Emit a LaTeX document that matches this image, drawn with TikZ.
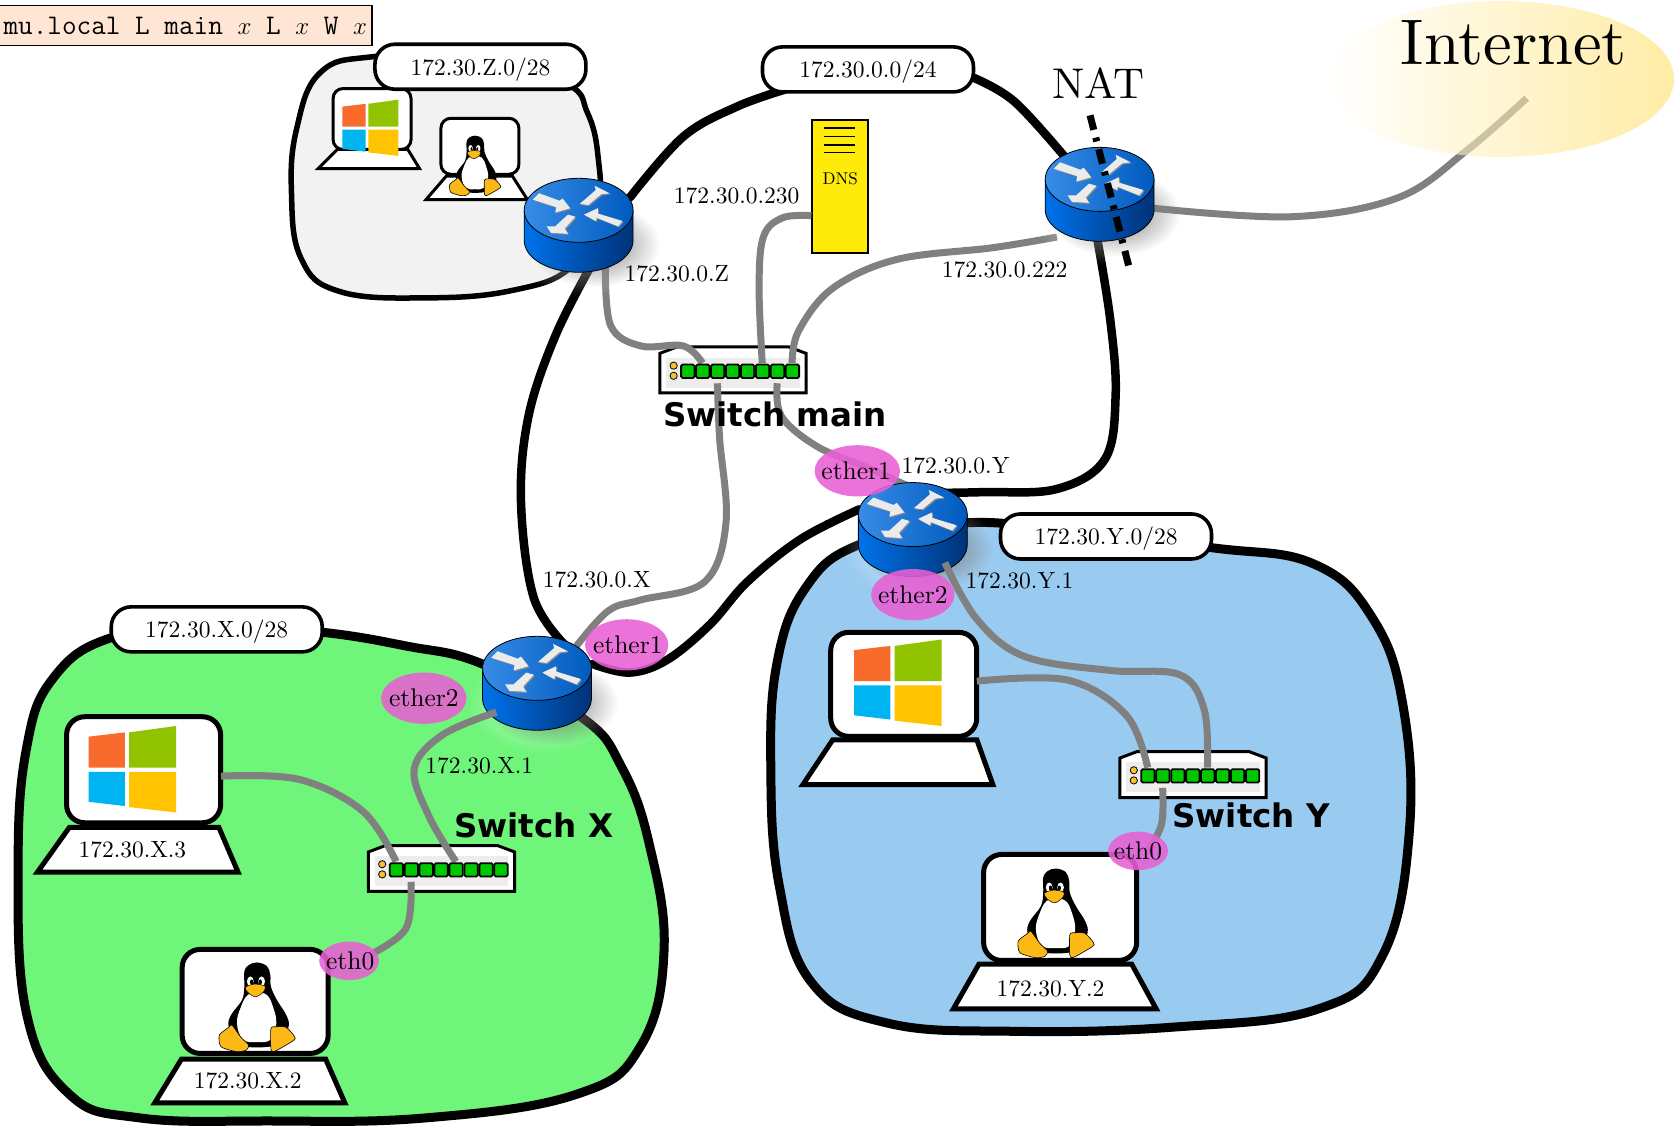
\documentclass[tikz,border=0pt]{standalone}
\usepackage{fontspec}
\setmainfont{lmroman10-regular}[Extension=.otf]
\newfontfamily\swfont{DejaVu Sans}
\usetikzlibrary{fadings,shapes.geometric}
\tikzfading[name=rglow, inner color=transparent!45, outer color=transparent!100]
\tikzfading[name=wglow, inner color=transparent!30, outer color=transparent!100]
\definecolor{rbodyL}{RGB}{0,115,235}
\definecolor{rbodyR}{RGB}{0,50,120}
\definecolor{rtopL}{RGB}{55,140,230}
\definecolor{rtopR}{RGB}{0,90,190}
\definecolor{greenblob}{RGB}{110,245,122}
\definecolor{blueblob}{RGB}{153,202,240}
\definecolor{grayblob}{RGB}{242,242,242}
\definecolor{pink}{RGB}{232,95,212}
\definecolor{dnsyellow}{RGB}{255,235,10}
\definecolor{portgreen}{RGB}{0,200,0}
\definecolor{led}{RGB}{250,190,50}
\definecolor{tuxfoot}{RGB}{252,184,20}
\definecolor{topbox}{RGB}{255,230,212}
\definecolor{inet}{RGB}{255,223,105}
\tikzset{
  x=1.0676pt, y=-1.0676pt,
  backbone/.style={draw=black, line width=8.5pt, line cap=round},
  netline/.style={draw=black!50, line width=7pt},
  blobline/.style={draw=black, line width=9pt},
  smallblob/.style={draw=black, line width=5.5pt, fill=grayblob},
  pill/.style={draw=black, line width=3.6pt, fill=white, rounded corners=20pt, minimum width=211pt, minimum height=45pt, inner sep=0pt, text depth=1pt, font=\ipfont},
  addr/.style={inner sep=0pt, font=\ipfont},
  etherdisc/.style={fill=pink, fill opacity=.88, draw=none},
  ethertext/.style={inner sep=0pt, font=\fontsize{25.5}{28}\selectfont},
  swlabel/.style={inner sep=0pt, font=\swfont\bfseries\fontsize{32.5}{36}\selectfont},
  screen/.style 2 args={draw=black, line width=#2, fill=white, rounded corners=#1, inner sep=0pt},
  base/.style={draw=black, fill=white, line join=miter},
  netswitch/.pic={
    \path[draw=black, line width=3pt, fill=white] (0,6) -- (16,0) -- (121,0) -- (137,6) -- (137,43) -- (0,43) -- cycle;
    \fill[black!7] (6,10) rectangle (131,38);
    \foreach \i in {1,...,8}{
      \coordinate (-p\i) at ({26+(\i-1)*14},15);
      \coordinate (-q\i) at ({26+(\i-1)*14},34);
    }
    \fill[led,draw=black,line width=.8pt] (13,17.5) circle [radius=3.4];
    \fill[led,draw=black,line width=.8pt] (13,27) circle [radius=3.4];
  },
  switchports/.pic={
    \foreach \i in {1,...,8}{
      \path[fill=portgreen,draw=black,line width=1.8pt,rounded corners=1.5pt] ({20+(\i-1)*14},16.5) rectangle ({32.5+(\i-1)*14},29);
    }
  },
  router/.pic={
    \fill[white,path fading=wglow] (6,32) ellipse [x radius=72, y radius=48];
    \fill[black,path fading=rglow] (14,32) ellipse [x radius=62, y radius=40];
    \path[draw=black,line width=.8pt,left color=rbodyL,right color=rbodyR]
      (-51,0) -- (-51,28) .. controls (-51,45) and (-28,58) .. (0,58) .. controls (28,58) and (51,45) .. (51,28) -- (51,0) -- cycle;
    \path[draw=black,line width=.8pt,left color=rtopL,right color=rtopR] (0,0) ellipse [x radius=51, y radius=30];
    \foreach \dx/\dy/\col in {1/1/black!45,0/0/white!92!black}{
      \begin{scope}[shift={(\dx,\dy)}]
      \fill[\col] (-43,-10) -- (-37,-16) -- (-18,-9) -- (-15,-11) -- (-8,-2) -- (-22,2) -- (-21,-3) -- cycle;
      \fill[\col] (1,-6) -- (16,-19) -- (15,-23) -- (29,-16) -- (21,-15) -- (9,-5) -- cycle;
      \fill[\col] (41,10) -- (37,15) -- (17,7) -- (16,10) -- (5,4) -- (18,-2) -- (18,3) -- cycle;
      \fill[\col] (-3,6) -- (-13,17) -- (-10,22) -- (-26,21) -- (-30,15) -- (-22,15) -- (-10,4) -- cycle;
      \end{scope}
    }
  },
  winlogo/.pic={
    \fill[color={rgb,255:red,249;green,107;blue,44}] (-41,-31) -- (-7,-35) -- (-7,-2) -- (-41,-2) -- cycle;
    \fill[color={rgb,255:red,145;green,195;blue,0}] (-3,-35) -- (41,-41) -- (41,-2) -- (-3,-2) -- cycle;
    \fill[color={rgb,255:red,0;green,180;blue,241}] (-41,2) -- (-7,2) -- (-7,34) -- (-41,30) -- cycle;
    \fill[color={rgb,255:red,255;green,195;blue,0}] (-3,2) -- (41,2) -- (41,40) -- (-3,35) -- cycle;
  },
  tux/.pic={
    \fill[black] plot[smooth cycle,tension=.6] coordinates {(0,-133) (30,-122) (40,-95) (42,-60) (60,-20) (88,25) (95,60) (70,110) (0,122) (-60,110) (-85,60) (-78,25) (-45,-20) (-38,-60) (-38,-105) (-25,-125)};
    \fill[white] plot[smooth cycle,tension=.7] coordinates {(0,-42) (30,-35) (48,0) (58,50) (42,98) (0,106) (-42,98) (-60,50) (-48,0) (-28,-35)};
    \fill[white] (-20,-76) ellipse [x radius=10, y radius=15];
    \fill[white] (14,-76) ellipse [x radius=10, y radius=15];
    \fill[black] (-16,-74) ellipse [x radius=5, y radius=8];
    \fill[black] (10,-74) ellipse [x radius=5, y radius=8];
    \path[fill=tuxfoot,draw=black,line width=.5pt] plot[smooth cycle,tension=.5] coordinates {(-35,-58) (-8,-68) (24,-62) (20,-45) (-3,-30) (-24,-40)};
    \path[fill=tuxfoot,draw=black,line width=.6pt] plot[smooth cycle,tension=.4] coordinates {(-113,85) (-85,62) (-75,55) (-48,92) (-25,115) (-32,130) (-60,135) (-108,120)};
    \path[fill=tuxfoot,draw=black,line width=.6pt] plot[smooth cycle,tension=.4] coordinates {(42,65) (60,60) (88,62) (115,95) (82,118) (52,134) (42,128)};
  }
}
\newcommand{\ipfont}{\fontsize{23.5}{28}\selectfont}
\begin{document}
\begin{tikzpicture}
\clip (0,0) rectangle (1568,1053.8);

\coordinate (inetend) at (1430,92);

% areas
\path[smallblob] plot[smooth cycle,tension=.7] coordinates {(350,53) (300,68) (278,120) (273,180) (282,242) (318,273) (400,279) (480,272) (535,250) (560,200) (560,145) (550,105) (530,78) (450,50)};
\path[blobline,fill=greenblob] plot[smooth cycle,tension=.7] coordinates {(105,597) (50,635) (25,700) (17,810) (25,950) (65,1025) (130,1047) (250,1050) (400,1047) (540,1025) (600,980) (622,890) (608,790) (582,718) (545,672) (452,622) (380,605) (300,592) (200,585)};
\path[blobline,fill=blueblob] plot[smooth cycle,tension=.7] coordinates {(805,510) (755,550) (728,620) (722,720) (730,830) (760,920) (830,958) (950,966) (1100,962) (1235,945) (1295,895) (1320,780) (1314,660) (1285,578) (1230,528) (1135,513) (1000,497) (900,490)};

% switches (bodies)
\pic (swM) at (618,325) {netswitch};
\pic (swX) at (345,792) {netswitch};
\pic (swY) at (1049,704) {netswitch};

% DNS server
\node[draw=black,line width=1.8pt,fill=dnsyellow,minimum width=56pt,minimum height=133pt,inner sep=0pt] (dns) at (786.5,174.5) {};
\foreach \ly in {120,128,136,143}{\draw[line width=1.5pt] (772,\ly) -- (801,\ly);}
\node[inner sep=0pt,font=\fontsize{17}{20}\selectfont] (dnslabel) at (787,167) {DNS};

% laptops
\node[screen={18pt}{5pt},minimum width=154pt,minimum height=106pt] (lapWX) at (134.5,721) {};
\path[base,line width=5pt] (65,775) -- (205,775) -- (223,817) -- (35,817) -- cycle;
\node[screen={18pt}{5pt},minimum width=146pt,minimum height=104pt] (lapWY) at (846.5,641) {};
\path[base,line width=5pt] (780,693) -- (915,693) -- (930,735) -- (752,735) -- cycle;
\node[screen={18pt}{5pt},minimum width=146pt,minimum height=104pt] (lapLX) at (239,938) {};
\path[base,line width=5pt] (170,992) -- (305,992) -- (323,1033) -- (145,1033) -- cycle;
\node[screen={18pt}{5pt},minimum width=153pt,minimum height=106pt] (lapLY) at (993,850) {};
\path[base,line width=5pt] (917,903) -- (1060,903) -- (1083,945) -- (893,945) -- cycle;
\node[screen={10pt}{3pt},minimum width=78pt,minimum height=61pt] (lapWZ) at (348.5,111.5) {};
\path[base,line width=3pt] (316,140) -- (382,140) -- (393,158) -- (298,158) -- cycle;
\node[screen={10pt}{3pt},minimum width=78pt,minimum height=56pt] (lapLZ) at (449.5,137) {};
\path[base,line width=3pt] (418,165) -- (480,165) -- (494,187) -- (399,187) -- cycle;

\pic at (124,721) {winlogo};
\pic at (841,640) {winlogo};
\pic[xscale=.64,yscale=.65] at (347,120) {winlogo};
\pic[scale=.312] at (240.7,943) {tux};
\pic[scale=.312] at (989,855) {tux};
\pic[scale=.21] at (445,155) {tux};

% connector end points
\coordinate (rZa) at (590,185);
\coordinate (rZb) at (553,250);
\coordinate (rZc) at (567,250);
\coordinate (natA) at (1000,150);
\coordinate (natB) at (1028,225);
\coordinate (natC) at (990,222);
\coordinate (natD) at (1080,195);
\coordinate (rXa) at (530,605);
\coordinate (rXb) at (540,605);
\coordinate (rXc) at (555,622);
\coordinate (rXd) at (465,667);
\coordinate (rYa) at (850,462);
\coordinate (rYb) at (805,477);
\coordinate (rYc) at (850,455);
\coordinate (rYd) at (885,527);
\coordinate (cZ) at (735,84);
\coordinate (cM) at (910,72);
\coordinate (dnsW) at (760,202);
\coordinate (winXe) at (207,727);
\coordinate (winYe) at (915,638);
\coordinate (ethX) at (345,895);
\coordinate (ethY) at (1075,797);

% backbone
\draw[backbone] plot[smooth,tension=.6] coordinates {(rZa) (640,128) (690,100) (cZ)};
\draw[backbone] plot[smooth,tension=.6] coordinates {(cM) (950,95) (natA)};
\draw[backbone] plot[smooth,tension=.6] coordinates {(rZb) (520,315) (495,390) (488,470) (500,560) (rXa)};
\draw[backbone] plot[smooth,tension=.6] coordinates {(natB) (1040,300) (1045,370) (1035,430) (990,458) (920,461) (rYa)};
\draw[backbone] plot[smooth,tension=.6] coordinates {(rYb) (750,505) (700,545) (665,585) (625,618) (590,630) (rXc)};

% grey links
\draw[netline] plot[smooth,tension=.6] coordinates {(rZc) (572,305) (600,324) (640,324) (swM-p2)};
\draw[netline] plot[smooth,tension=.6] coordinates {(dnsW) (733,204) (715,222) (711,270) (swM-p6)};
\draw[netline] plot[smooth,tension=.6] coordinates {(natC) (930,232) (840,243) (780,270) (748,310) (swM-p8)};
\draw[netline] plot[smooth,tension=.6] coordinates {(swM-q3) (674,410) (680,490) (660,545) (600,562) (570,572) (rXb)};
\draw[netline] plot[smooth,tension=.6] coordinates {(swM-q7) (732,390) (765,418) (810,437) (rYc)};
\draw[netline] plot[smooth,tension=.6] coordinates {(winXe) (280,730) (340,760) (swX-p1)};
\draw[netline] plot[smooth,tension=.6] coordinates {(swX-q2) (380,870) (ethX)};
\draw[netline] plot[smooth,tension=.6] coordinates {(winYe) (1000,637) (1055,670) (swY-p1)};
\draw[netline] plot[smooth,tension=.6] coordinates {(swY-q2) (1088,772) (ethY)};
\draw[netline] plot[smooth,tension=.6] coordinates {(natD) (1210,203) (1310,185) (1375,140) (inetend)};

% routers
\pic (rZ) at (542,197) {router};
\pic (rNAT) at (1030,168) {router};
\pic (rX) at (503,626) {router};
\pic (rY) at (855,482) {router};

% links that start on a router's face
\draw[netline] plot[smooth,tension=.6] coordinates {(rXd) (415,688) (388,720) (402,765) (swX-p5)};
\draw[netline] plot[smooth,tension=.6] coordinates {(rYd) (915,580) (960,615) (1040,628) (1105,632) (1128,665) (swY-p5)};

\pic at (618,325) {switchports};
\pic at (345,792) {switchports};
\pic at (1049,704) {switchports};

% NAT cut
\coordinate (cutA) at (1021,108);
\coordinate (cutB) at (1058,252);
\draw[line width=7pt,dash pattern=on 15pt off 8pt on 4pt off 8pt] (cutA) -- (cutB);

% internet
\path[left color=white,right color=inet,opacity=.6] (1406,74) ellipse [x radius=162, y radius=73];
\node[inner sep=0pt,font=\fontsize{64.5}{70}\selectfont] (internet) at (1418,40) {Internet};
\node[inner sep=0pt,font=\fontsize{43}{46}\selectfont] (natlabel) at (1029,78) {NAT};

% pills
\node[pill] (pZ) at (450,62.5) {172.30.Z.0/28};
\node[pill] (pM) at (813,65) {172.30.0.0/24};
\node[pill] (pY) at (1036,502.5) {172.30.Y.0/28};
\node[pill] (pX) at (203,589.5) {172.30.X.0/28};

% addresses
\node[addr] (a1) at (690,183) {172.30.0.230};
\node[addr] (a2) at (634,256) {172.30.0.Z};
\node[addr] (a3) at (941,253) {172.30.0.222};
\node[addr] (a4) at (895,436) {172.30.0.Y};
\node[addr] (a5) at (955,544) {172.30.Y.1};
\node[addr] (a6) at (559,543) {172.30.0.X};
\node[addr] (a7) at (449,717) {172.30.X.1};
\node[addr] (a8) at (124,796) {172.30.X.3};
\node[addr] (a9) at (232,1012) {172.30.X.2};
\node[addr] (a10) at (984,926) {172.30.Y.2};

% switch names
\node[swlabel] (lM) at (726,388) {Switch main};
\node[swlabel] (lX) at (500,773) {Switch X};
\node[swlabel] (lY) at (1172,764) {Switch Y};

% interface ellipses
\fill[etherdisc] (803,441) ellipse [x radius=40, y radius=24];
\fill[etherdisc] (855,557) ellipse [x radius=39, y radius=24];
\fill[etherdisc] (587,604) ellipse [x radius=39, y radius=24];
\fill[etherdisc] (397,654) ellipse [x radius=40, y radius=24];
\fill[etherdisc] (327,900) ellipse [x radius=28, y radius=18];
\fill[etherdisc] (1066,797) ellipse [x radius=28, y radius=18];
\node[ethertext] (e1) at (802,441) {ether1};
\node[ethertext] (e2) at (855,557) {ether2};
\node[ethertext] (e3) at (588,604) {ether1};
\node[ethertext] (e4) at (397,654) {ether2};
\node[ethertext] (e5) at (328,900) {eth0};
\node[ethertext] (e6) at (1066,797) {eth0};

% title box
\node[draw=black,line width=1.4pt,fill=topbox,anchor=east,minimum height=40pt,inner xsep=5pt,inner ysep=0pt,font=\ttfamily\fontsize{28.4}{32}\selectfont] (title) at (349,24) {mu.local L main $x$ L $x$ W $x$};
\end{tikzpicture}
\end{document}
